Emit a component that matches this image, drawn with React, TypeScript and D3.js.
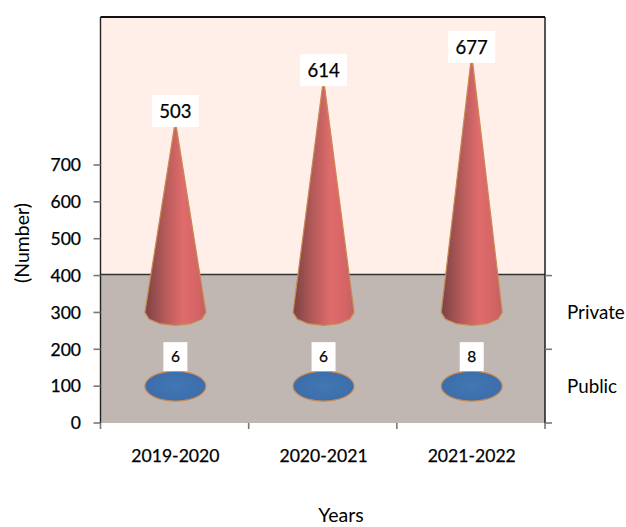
import React from "react";
import * as d3 from "d3";

const years = ["2019-2020", "2020-2021", "2021-2022"];
const privateValues = [503, 614, 677];
const publicValues = [6, 6, 8];
const yTicks = [0, 100, 200, 300, 400, 500, 600, 700];
const FONT = "Lato, 'Open Sans', sans-serif";

const W = 626, H = 527;
const left = 100.5, right = 545, top = 17, wallBottom = 274.5, floor = 423;
const y = d3.scaleLinear().domain([0, 700]).range([floor, 165]);
const x = d3.scaleBand().domain(years).range([left, right]);
const base = { Private: 300, Public: 100 };
const RX = 30.5, RY = 13;
const heavy = { stroke: "#000", strokeWidth: 0.25 };

function conePath(cx: number, baseVal: number, value: number) {
  const by = y(baseVal);
  const tip = y(baseVal + value);
  const angles = d3.range(0, 181, 30).map((d) => (d * Math.PI) / 180);
  const pts: [number, number][] = [[cx - 1, tip], [cx + 1, tip]];
  angles.forEach((a) => pts.push([cx + RX * Math.cos(a), by + RY * Math.sin(a)]));
  return d3.line()(pts) + "Z";
}

function publicPath(cx: number, baseVal: number) {
  const by = y(baseVal);
  const angles = d3.range(0, 360, 30).map((d) => (d * Math.PI) / 180);
  const pts = angles.map((a) => [cx + RX * Math.cos(a), by + (RY + 2) * Math.sin(a)] as [number, number]);
  return d3.line().curve(d3.curveCatmullRomClosed.alpha(0.1))(pts) + "Z";
}

export default function App() {
  const cx = (c: string) => x(c)! + x.bandwidth() / 2 + 0.8;
  return (
    <svg width={W} height={H} style={{ position: "absolute", left: 0, top: 0 }} fontFamily={FONT}>
      <defs>
        <linearGradient id="red" x1="0" x2="1" y1="0" y2="0">
          <stop offset="0" stopColor="#7a4242" />
          <stop offset="0.3" stopColor="#b05858" />
          <stop offset="0.62" stopColor="#e06c6c" />
          <stop offset="0.85" stopColor="#d66565" />
          <stop offset="1" stopColor="#c26060" />
        </linearGradient>
        <radialGradient id="blue" cx="0.5" cy="0.5" r="0.6">
          <stop offset="0" stopColor="#4277b4" />
          <stop offset="1" stopColor="#3a6ca8" />
        </radialGradient>
      </defs>
      <rect x={0} y={0} width={W} height={H} fill="#fff" />
      <rect x={left} y={top} width={right - left} height={wallBottom - top} fill="#ffefe8" />
      <rect x={left} y={wallBottom} width={right - left} height={floor - wallBottom} fill="#c0b6b2" />
      <line x1={left} x2={right} y1={top} y2={top} stroke="#111" strokeWidth={1.8} />
      <line x1={left} x2={right} y1={wallBottom} y2={wallBottom} stroke="#333" strokeWidth={1.6} />
      <line x1={left} x2={left} y1={top} y2={floor} stroke="#222" strokeWidth={1.4} />
      <line x1={right} x2={right} y1={top} y2={floor} stroke="#111" strokeWidth={1.4} />

      {yTicks.map((t) => (
        <g key={t}>
          <line x1={left - 7} x2={left} y1={y(t)} y2={y(t)} stroke="#777" strokeWidth={1.6} />
          <text x={81} y={y(t)} dy="0.36em" textAnchor="end" fontSize={17.5} fill="#000" {...heavy}>{t}</text>
        </g>
      ))}
      {[400, 200, 0].map((t) => (
        <line key={t} x1={right} x2={right + 7} y1={y(t)} y2={y(t)} stroke="#777" strokeWidth={1.6} />
      ))}
      {[...years.map((c) => x(c)!), right].map((p, i) => (
        <line key={i} x1={p} x2={p} y1={floor} y2={floor + 6} stroke="#777" strokeWidth={1.6} />
      ))}

      {years.map((c, i) => (
        <g key={c}>
          <path d={conePath(cx(c), base.Private, privateValues[i])} fill="url(#red)" stroke="#c98a52" strokeWidth={1.2} />
          <path d={publicPath(cx(c), base.Public)} fill="url(#blue)" stroke="#c98a52" strokeWidth={1.2} />
          <rect x={cx(c) - 23.5} y={y(base.Private + privateValues[i]) - 32} width={47} height={32} fill="#fff" />
          <text x={cx(c)} y={y(base.Private + privateValues[i]) - 16} dy="0.36em" textAnchor="middle" fontSize={18.5} fill="#000" {...heavy}>{privateValues[i]}</text>
          <rect x={cx(c) - 12} y={y(base.Public) - 44} width={24} height={29} fill="#fff" />
          <text x={cx(c)} y={y(base.Public) - 29.5} dy="0.36em" textAnchor="middle" fontSize={15.5} fill="#000" {...heavy}>{publicValues[i]}</text>
          <text x={cx(c)} y={456} dy="0.36em" textAnchor="middle" fontSize={17.6} fill="#000" {...heavy}>{c}</text>
        </g>
      ))}

      <text x={567} y={312} dy="0.36em" fontSize={18.8} fill="#000">Private</text>
      <text x={567} y={386} dy="0.36em" fontSize={18.8} fill="#000">Public</text>
      <text x={341} y={522} textAnchor="middle" fontSize={19.5} fill="#000">Years</text>
      <text transform="translate(22,243) rotate(-90)" textAnchor="middle" dy="0.36em" fontSize={19.5} fill="#000">(Number)</text>
    </svg>
  );
}
